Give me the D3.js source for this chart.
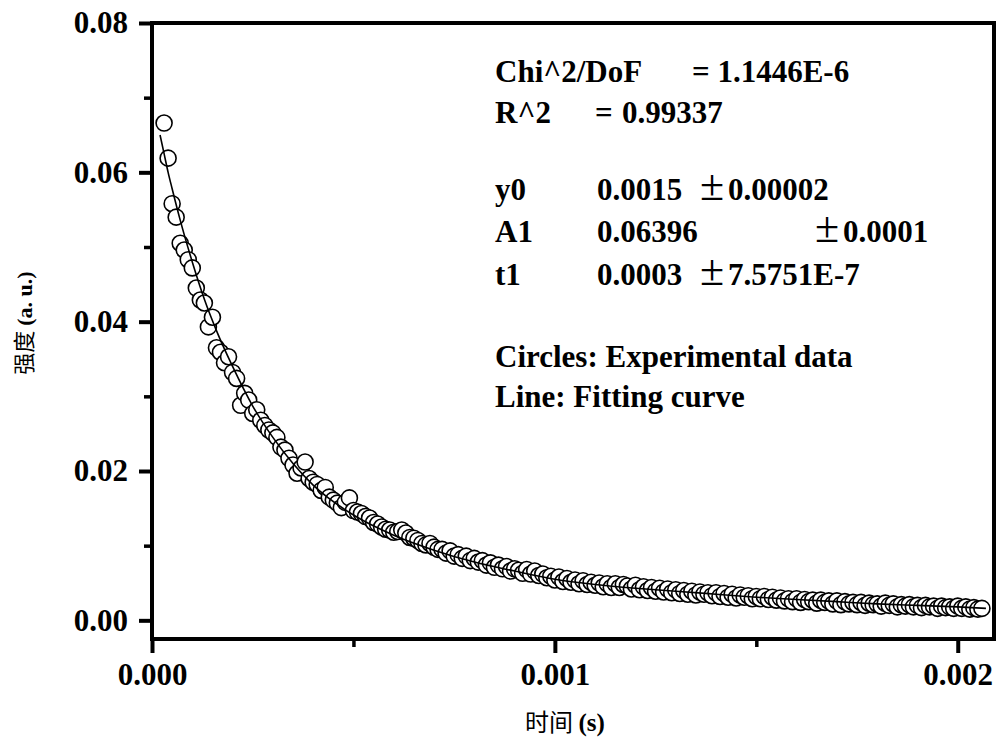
<!DOCTYPE html>
<html>
<head>
<meta charset="utf-8">
<script src="https://cdn.jsdelivr.net/npm/d3@7"></script>
<style>
  body { margin: 0; background: #fff; }
  svg { display: block; }
  text { fill: #000; }
</style>
</head>
<body>
<svg id="chart" width="1000" height="746"></svg>
<script>
// sampling of the measured decay (s)
var sampleStart = 0.00003, sampleStep = 0.00001;

var intensity = [
  0.0666, 0.0619, 0.0558, 0.0540, 0.0505, 0.0496, 0.0483, 0.0472, 0.0445, 0.0429,
  0.0425, 0.0393, 0.0406, 0.0365, 0.0359, 0.0345, 0.0353, 0.0332, 0.0324, 0.0288,
  0.0304, 0.0295, 0.0277, 0.0282, 0.0268, 0.0261, 0.0255, 0.0251, 0.0245, 0.0232,
  0.0228, 0.0217, 0.0208, 0.0197, 0.0204, 0.0212, 0.0190, 0.0185, 0.0182, 0.0174,
  0.0178, 0.0165, 0.0161, 0.0157, 0.0151, 0.0158, 0.0164, 0.0147, 0.0145, 0.0143,
  0.0139, 0.0137, 0.0131, 0.0129, 0.0125, 0.0122, 0.0121, 0.0118, 0.0119, 0.0121,
  0.0117, 0.0111, 0.0110, 0.0107, 0.0103, 0.0101, 0.0103, 0.0098, 0.0095, 0.0095,
  0.0090, 0.0093, 0.0086, 0.0088, 0.0083, 0.0086, 0.0080, 0.0083, 0.0078, 0.0080,
  0.0074, 0.0077, 0.0071, 0.0074, 0.0069, 0.0072, 0.0066, 0.0069, 0.0067, 0.0063,
  0.0068, 0.0062, 0.0066, 0.0060, 0.0062, 0.0057, 0.0059, 0.0054, 0.0058, 0.0052,
  0.0056, 0.0051, 0.0054, 0.0049, 0.0053, 0.0048, 0.0051, 0.0047, 0.0050, 0.0045,
  0.0049, 0.0044, 0.0049, 0.0044, 0.0048, 0.0046, 0.0042, 0.0047, 0.0041, 0.0045,
  0.0040, 0.0044, 0.0039, 0.0043, 0.0038, 0.0042, 0.0037, 0.0041, 0.0036, 0.0040,
  0.0035, 0.0039, 0.0034, 0.0038, 0.0035, 0.0037, 0.0033, 0.0037, 0.0032, 0.0036,
  0.0031, 0.0035, 0.0030, 0.0034, 0.0031, 0.0033, 0.0029, 0.0032, 0.0029, 0.0032,
  0.0028, 0.0031, 0.0027, 0.0030, 0.0026, 0.0029, 0.0025, 0.0029, 0.0024, 0.0028,
  0.0025, 0.0027, 0.0023, 0.0027, 0.0024, 0.0026, 0.0022, 0.0026, 0.0021, 0.0025,
  0.0022, 0.0024, 0.0021, 0.0024, 0.0020, 0.0023, 0.0021, 0.0022, 0.0019, 0.0023,
  0.0020, 0.0022, 0.0018, 0.0021, 0.0019, 0.0021, 0.0018, 0.0020, 0.0017, 0.0020,
  0.0018, 0.0019, 0.0016, 0.0019, 0.0017, 0.0018, 0.0016, 0.0019, 0.0016, 0.0018,
  0.0015, 0.0017, 0.0015, 0.0016
];

// fitted curve
var fitTime = [0.00002, 0.00003, 0.00004, 0.00005, 0.00007, 0.0001, 0.00013, 0.00016,
  0.0002, 0.00025, 0.0003, 0.00035, 0.0004, 0.0005, 0.0006, 0.0007, 0.0008, 0.0009,
  0.001, 0.0011, 0.0012, 0.0013, 0.0014, 0.0015, 0.0016, 0.0017, 0.0018, 0.0019,
  0.002, 0.00207];
var fitValue = [0.0650, 0.0625, 0.0600, 0.0578, 0.0536, 0.0480, 0.0430, 0.0388,
  0.0340, 0.0287, 0.0245, 0.0210, 0.0181, 0.0141, 0.0114, 0.0094, 0.0078, 0.0066,
  0.0055, 0.0048, 0.0043, 0.0039, 0.0035, 0.0031, 0.0028, 0.0025, 0.0022, 0.0020,
  0.0018, 0.0016];

var xMajor = [0, 0.001, 0.002], xMinor = [0.0005, 0.0015];
var yMajor = [0, 0.02, 0.04, 0.06, 0.08], yMinor = [0.01, 0.03, 0.05, 0.07];

// fit report, one row per line: [text, x]; "±" is drawn larger
var statRows = [
  { y: 82,  parts: [["Chi^2/DoF", 495], ["= 1.1446E-6", 692]] },
  { y: 123, parts: [["R^2", 495], ["=", 595], ["0.99337", 622]] },
  { y: 200, parts: [["y0", 495], ["0.0015", 597], ["±", 700], ["0.00002", 728]] },
  { y: 242, parts: [["A1", 495], ["0.06396", 597], ["±", 815], ["0.0001", 843]] },
  { y: 285, parts: [["t1", 495], ["0.0003", 597], ["±", 700], ["7.5751E-7", 728]] },
  { y: 367, parts: [["Circles: Experimental data", 495]] },
  { y: 407, parts: [["Line: Fitting curve", 495]] }
];

var serif = "'Liberation Serif', 'Times New Roman', serif";
var cjk = "'Noto Sans CJK SC', sans-serif";

var l_left = 152, l_right = 994, l_top = 23, l_bottom = 639;

var svg = d3.select("#chart");

var x = d3.scaleLinear().domain([0, 0.00209]).range([l_left, l_right]);
var y = d3.scaleLinear().domain([-0.0025, 0.08]).range([l_bottom, l_top]);

var points = intensity.map(function(v, i) {
  return { t: sampleStart + i * sampleStep, v: v };
});
var fit = fitTime.map(function(t, i) { return { t: t, v: fitValue[i] }; });

// experimental circles
svg.append("g").selectAll("circle")
    .data(points)
  .enter().append("circle")
    .attr("cx", function(d) { return x(d.t); })
    .attr("cy", function(d) { return y(d.v); })
    .attr("r", 8)
    .style("fill", "#fff")
    .style("stroke", "#000")
    .style("stroke-width", 1.6);

// fitting curve
svg.append("path")
    .datum(fit)
    .attr("d", d3.line()
        .x(function(d) { return x(d.t); })
        .y(function(d) { return y(d.v); })
        .curve(d3.curveMonotoneX))
    .style("fill", "none")
    .style("stroke", "#000")
    .style("stroke-width", 1.6);

// axes
function styleAxis(g, w) {
  g.select(".domain").remove();
  g.selectAll("line").style("stroke", "#000").style("stroke-width", w);
  g.selectAll("text")
    .style("font-family", serif)
    .style("font-weight", "bold")
    .style("font-size", "31px")
    .style("fill", "#000");
}

svg.append("g")
    .attr("transform", "translate(" + l_left + ",0)")
    .call(d3.axisLeft(y).tickValues(yMajor).tickFormat(d3.format(".2f")).tickSize(13).tickPadding(11))
    .call(styleAxis, 4);
svg.append("g")
    .attr("transform", "translate(" + l_left + ",0)")
    .call(d3.axisLeft(y).tickValues(yMinor).tickFormat("").tickSize(8))
    .call(styleAxis, 3.5);
svg.append("g")
    .attr("transform", "translate(0," + l_bottom + ")")
    .call(d3.axisBottom(x).tickValues(xMajor).tickFormat(d3.format(".3f")).tickSize(14).tickPadding(10))
    .call(styleAxis, 4);
svg.append("g")
    .attr("transform", "translate(0," + l_bottom + ")")
    .call(d3.axisBottom(x).tickValues(xMinor).tickFormat("").tickSize(8))
    .call(styleAxis, 3.5);

// frame
svg.append("rect")
    .attr("x", l_left)
    .attr("y", l_top)
    .attr("width", l_right - l_left)
    .attr("height", l_bottom - l_top)
    .style("fill", "none")
    .style("stroke", "#000")
    .style("stroke-width", 4);

// fit report
statRows.forEach(function(row) {
  row.parts.forEach(function(p) {
    var pm = p[0] === "±";
    svg.append("text")
        .attr("x", p[1])
        .attr("y", row.y)
        .style("font-family", serif)
        .style("font-weight", pm ? "normal" : "bold")
        .style("font-size", pm ? "44px" : "31px")
        .text(p[0]);
  });
});

// axis titles
var xt = svg.append("text")
    .attr("x", 565)
    .attr("y", 731)
    .attr("text-anchor", "middle");
xt.append("tspan").style("font-family", cjk).style("font-size", "24px").text("时间 ");
xt.append("tspan").style("font-family", serif).style("font-weight", "bold").style("font-size", "25px").text("(s)");

var yt = svg.append("text")
    .attr("transform", "translate(32,323) rotate(-90)")
    .attr("text-anchor", "middle");
yt.append("tspan").style("font-family", cjk).style("font-size", "22px").text("强度 ");
yt.append("tspan").style("font-family", serif).style("font-weight", "bold").style("font-size", "22px").text("(a. u.)");
</script>
</body>
</html>
